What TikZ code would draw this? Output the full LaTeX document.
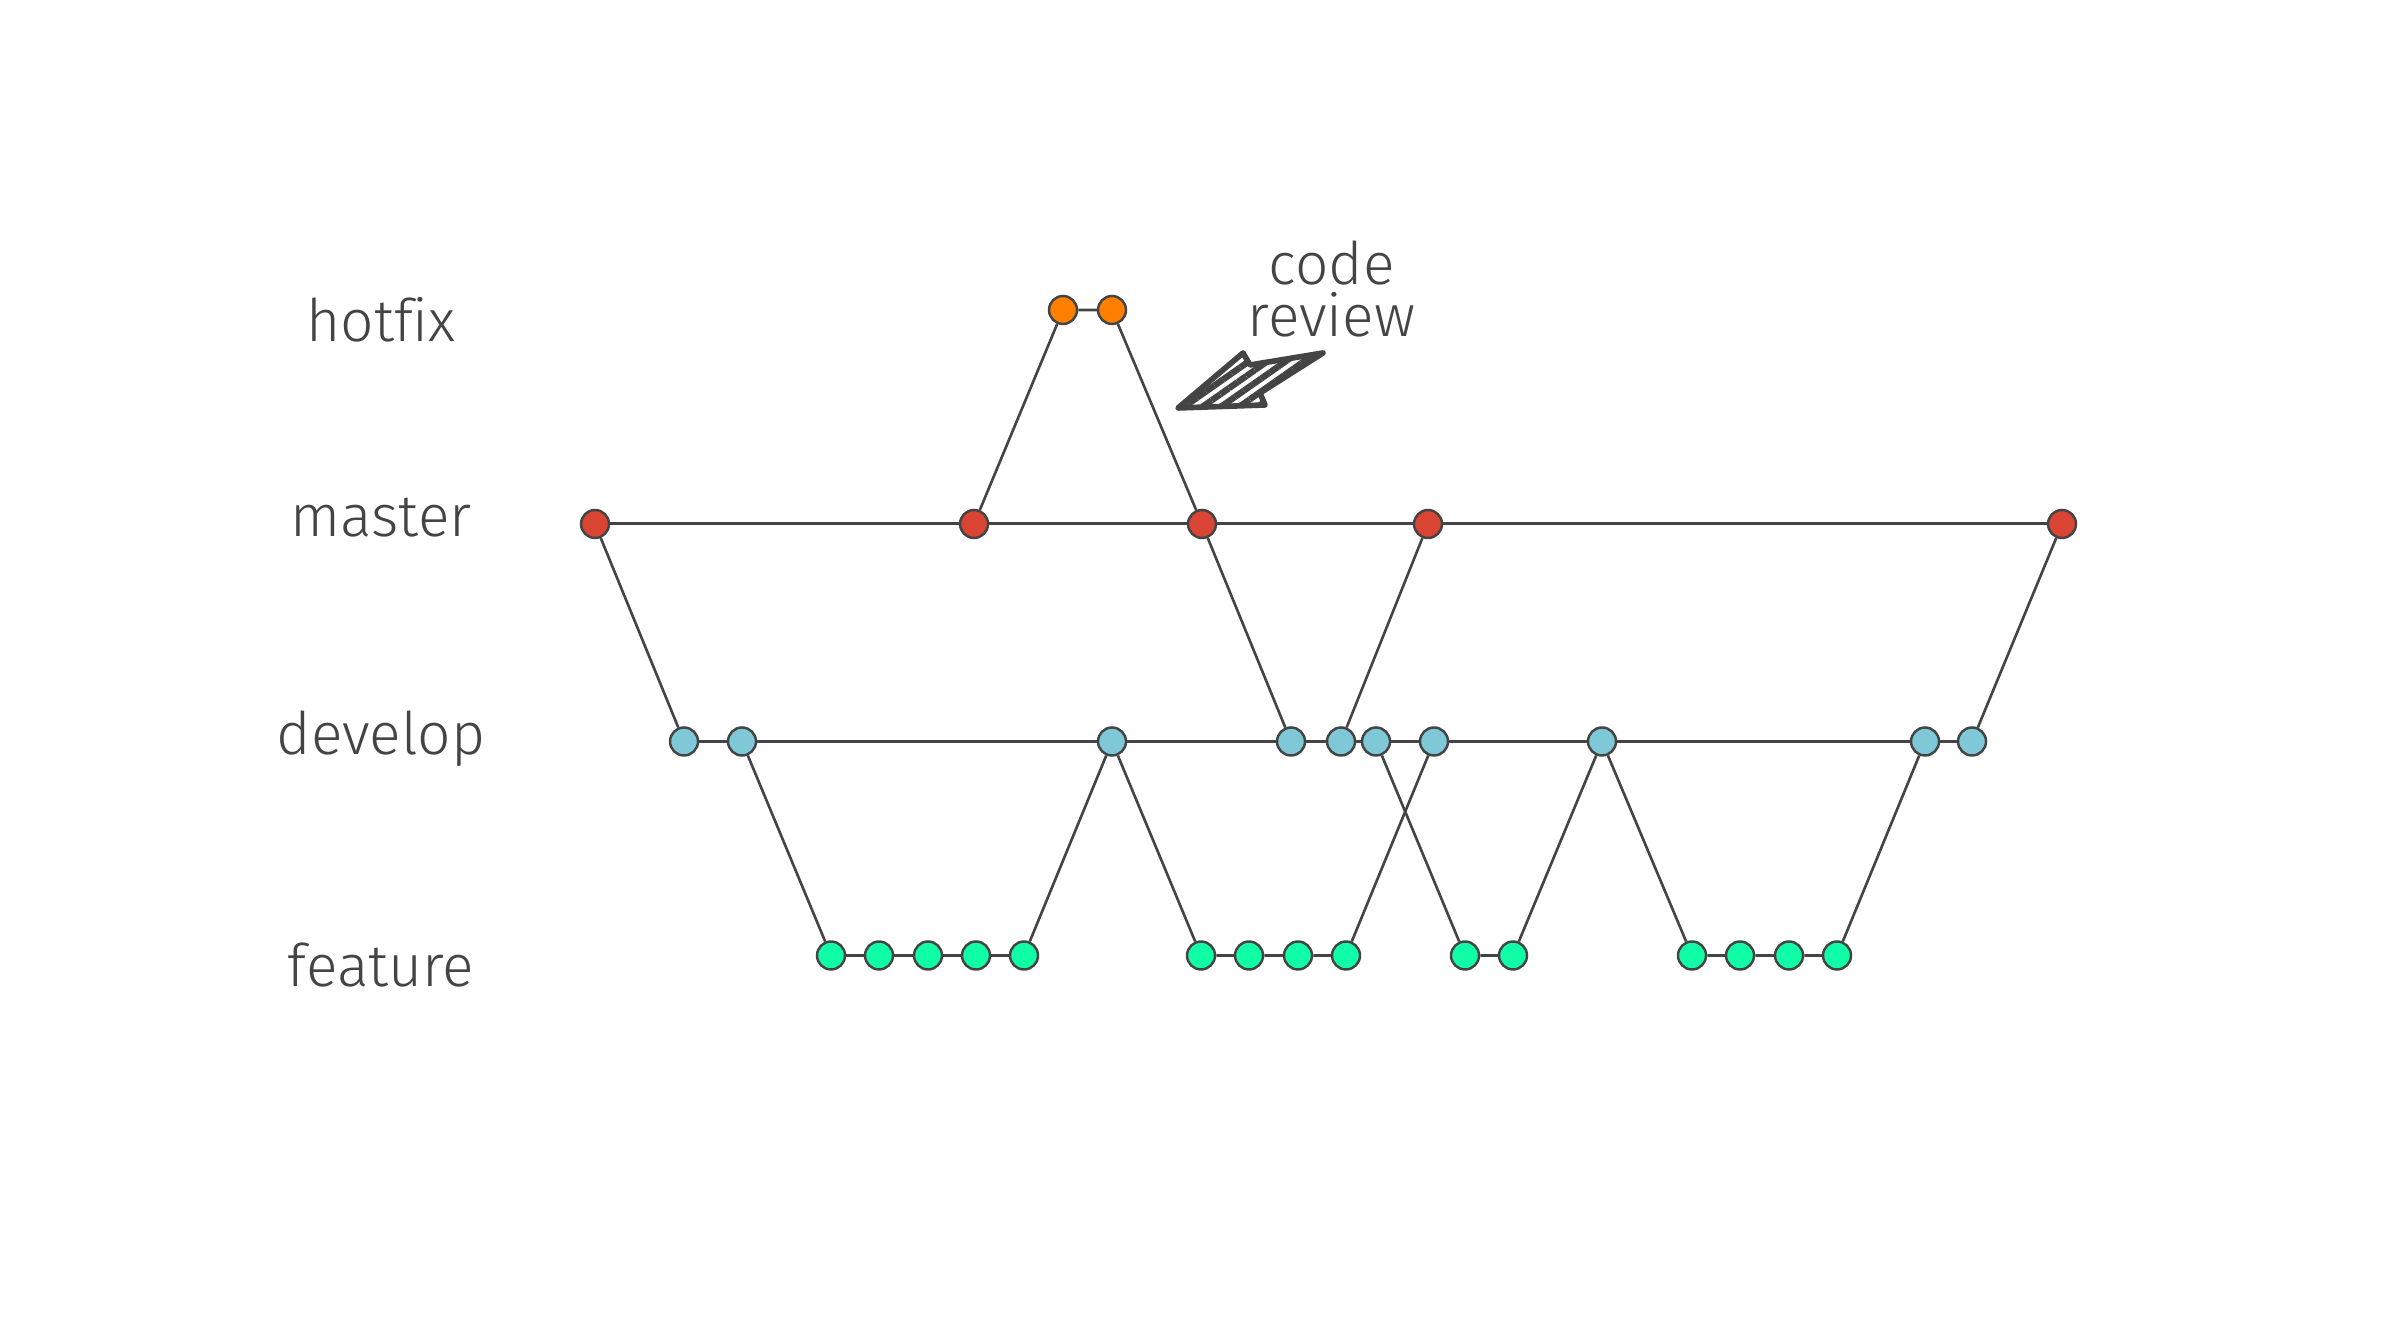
\documentclass[tikz,border=0pt]{standalone}
\usepackage{fontspec}
\IfFontExistsTF{Fira Sans Light}{\setmainfont{Fira Sans Light}[Ligatures=NoCommon]}{\setmainfont{Fira Sans}[Ligatures=NoCommon]}
\usetikzlibrary{patterns.meta}

\definecolor{ink}{HTML}{444444}
\definecolor{hotfixcol}{HTML}{FF7F00}
\definecolor{mastercol}{HTML}{D94532}
\definecolor{developcol}{HTML}{7EC8D8}
\definecolor{featurecol}{HTML}{10FFA6}

\begin{document}
\begin{tikzpicture}[
    commit/.style={circle,draw=ink,line width=0.7pt,minimum size=0.28cm,inner sep=0pt},
    branchname/.style={text=ink,font=\fontsize{16.7}{20}\selectfont,anchor=base},
    trunk/.style={draw=ink,line width=0.85pt},
    link/.style={draw=ink,line width=0.75pt}]
        \useasboundingbox (0,0) rectangle (24,13.26);

        \node[branchname] (lhotfix) at (3.81,9.84) {hotfix};
        \node[branchname] (lmaster) at (3.81,7.89) {master};
        \node[branchname] (ldevelop) at (3.81,5.71) {develop};
        \node[branchname] (lfeature) at (3.81,3.39) {feature};

        \node[commit,fill=hotfixcol] (H0) at (10.63,10.16) {};
        \node[commit,fill=hotfixcol] (H1) at (11.12,10.16) {};

        \node[commit,fill=mastercol] (M0) at (5.95,8.02) {};
        \node[commit,fill=mastercol] (M1) at (9.74,8.02) {};
        \node[commit,fill=mastercol] (M2) at (12.02,8.02) {};
        \node[commit,fill=mastercol] (M3) at (14.28,8.02) {};
        \node[commit,fill=mastercol] (M4) at (20.62,8.02) {};

        \node[commit,fill=developcol] (D0) at (6.84,5.845) {};
        \node[commit,fill=developcol] (D1) at (7.42,5.845) {};
        \node[commit,fill=developcol] (D2) at (11.12,5.845) {};
        \node[commit,fill=developcol] (D3) at (12.91,5.845) {};
        \node[commit,fill=developcol] (D4) at (13.41,5.845) {};
        \node[commit,fill=developcol] (D5) at (13.76,5.845) {};
        \node[commit,fill=developcol] (D6) at (14.34,5.845) {};
        \node[commit,fill=developcol] (D7) at (16.02,5.845) {};
        \node[commit,fill=developcol] (D8) at (19.25,5.845) {};
        \node[commit,fill=developcol] (D9) at (19.72,5.845) {};

        \node[commit,fill=featurecol] (F0) at (8.31,3.705) {};
        \node[commit,fill=featurecol] (F1) at (8.79,3.705) {};
        \node[commit,fill=featurecol] (F2) at (9.28,3.705) {};
        \node[commit,fill=featurecol] (F3) at (9.76,3.705) {};
        \node[commit,fill=featurecol] (F4) at (10.24,3.705) {};
        \node[commit,fill=featurecol] (F5) at (12.01,3.705) {};
        \node[commit,fill=featurecol] (F6) at (12.49,3.705) {};
        \node[commit,fill=featurecol] (F7) at (12.98,3.705) {};
        \node[commit,fill=featurecol] (F8) at (13.46,3.705) {};
        \node[commit,fill=featurecol] (F9) at (14.65,3.705) {};
        \node[commit,fill=featurecol] (F10) at (15.13,3.705) {};
        \node[commit,fill=featurecol] (F11) at (16.92,3.705) {};
        \node[commit,fill=featurecol] (F12) at (17.40,3.705) {};
        \node[commit,fill=featurecol] (F13) at (17.89,3.705) {};
        \node[commit,fill=featurecol] (F14) at (18.37,3.705) {};

        \draw[trunk] (M0) -- (M1) -- (M2) -- (M3) -- (M4);
        \draw[trunk] (D0) -- (D1) -- (D2) -- (D3) -- (D4) -- (D5) -- (D6) -- (D7) -- (D8) -- (D9);

        \draw[link] (M0) -- (D0);
        \draw[link] (M1) -- (H0) -- (H1) -- (M2);
        \draw[link] (M2) -- (D3);
        \draw[link] (D4) -- (M3);
        \draw[link] (D9) -- (M4);
        \draw[link] (D1) -- (F0) -- (F1) -- (F2) -- (F3) -- (F4) -- (D2);
        \draw[link] (D2) -- (F5) -- (F6) -- (F7) -- (F8) -- (D6);
        \draw[link] (D5) -- (F9) -- (F10) -- (D7);
        \draw[link] (D7) -- (F11) -- (F12) -- (F13) -- (F14) -- (D8);

        % sketchy arrow
        \node[branchname,anchor=center,align=center,font=\fontsize{16.7}{14.6}\selectfont]
            (codereview) at (13.315,10.37) {code\\review};
        \draw[ink,line width=1.6pt,line join=round,
              pattern={Lines[angle=35,distance=3pt,line width=1.8pt]},pattern color=ink]
            (11.78,9.18) -- (12.43,9.73) -- (12.50,9.61) -- (13.23,9.73)
            -- (12.60,9.33) -- (12.65,9.21) -- cycle;
      \end{tikzpicture}
\end{document}
